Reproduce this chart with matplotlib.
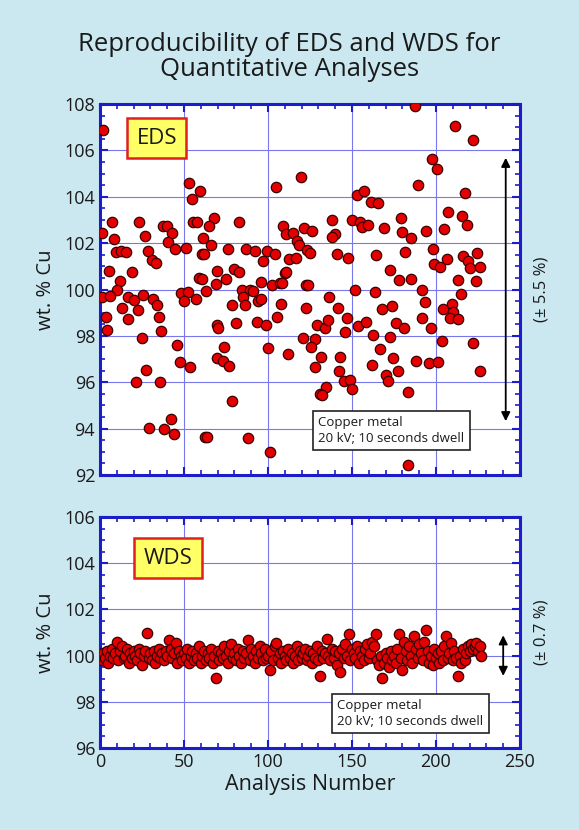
import matplotlib
matplotlib.use("Agg")
import matplotlib.pyplot as plt
from matplotlib.ticker import MultipleLocator

plt.rcParams['font.family'] = ['Open Sans', 'DejaVu Sans']

# EDS readings (analysis number, wt.% Cu)
eds_x = [2, 1, 7.3, 8.3, 9.7, 12.5, 15.7, 5.4, 11.7, 10.3, 1, 6, 16.5, 3.4, 4,
         13.3, 16.9, 18.8, 20.4, 22.8, 25.4, 23.2, 26.8, 28.8, 30.8, 33.1, 31.7,
         33.7, 35.1, 36.3, 24.8, 27.2, 21.2, 35.7, 29.4, 38.3, 42.3, 44, 37.7,
         39.7, 43, 40.7, 44.6, 51, 45.8, 47.6, 53.6, 53, 55, 59.5, 55.6, 58,
         48.2, 52.2, 50.2, 57.1, 59, 60.9, 62.5,
         67.9, 65.1, 82.9, 61.5, 65.9, 61.9, 76.4, 86.9, 92.3, 99.2, 104.1, 97.2,
         69.5, 80, 82.7, 75, 69, 63.1, 60.5, 84.3, 89.3, 91, 95.8, 102.2, 107.1,
         108.1, 110, 84.9, 78.4, 86.3, 94.2, 95.6, 107.5, 105.6, 69.4, 70.4, 81,
         93.3, 98.8, 73.8, 100.2, 112.1, 69.9, 73, 77, 78.8, 63.9, 88.3, 101.2,
         104.8, 119.4, 109.1, 110.7, 114.7, 117.1, 118.6, 121.4, 112.7, 116.7,
         110.7, 123.4, 122.6, 122.6, 121,
         126.4, 137.9, 139.9, 138.3, 125, 140.9, 147.4, 124, 136.3, 141.9, 146.8,
         129, 134, 136, 145.8, 128, 125.6, 131.6, 128, 142.9, 142.3, 145.4, 148.8,
         149.8, 134.3, 131, 132.4, 152.8, 157.3, 161.3, 165.6, 150.2, 154.8,
         155.7, 159.7, 169, 179.2, 179.6, 185.2, 164.1, 181.5, 172.6, 178.1,
         185.2, 151.8, 163.7, 168.1, 174.1, 153.4, 158.1, 176, 181.1, 162.7,
         172.6, 166.6, 174.6, 161.7, 170.1, 171.2, 177.6, 183.3, 183.6, 187.5,
         211.3, 222.2, 197.4, 200.4, 189.5, 217.3, 207.3, 215.3, 218.3, 194,
         204.8, 198, 215.9, 224.2, 206.7, 198.8, 202.4, 219, 220.2, 226.4, 213.3,
         223.8, 191.5, 214.7, 193.5, 204.4, 209.3, 210.3, 208.3, 213.3, 191.5,
         196.9, 203.4, 221.8, 188.1, 196, 201.4, 226.4]
eds_y = [106.9, 102.44, 102.93, 102.16, 101.61, 101.64, 101.61, 100.79, 100.36,
         99.96, 99.69, 99.71, 99.69, 98.8, 98.26, 99.19, 98.71, 100.76, 99.54,
         99.11, 99.76, 102.93, 102.29, 101.64, 101.26, 101.16, 99.61, 99.33,
         98.8, 98.19, 97.93, 96.51, 96.01, 96.01, 94.04, 94.0, 94.4, 93.76,
         102.73, 102.76, 102.43, 102.07, 101.73, 101.81, 97.59, 96.87, 96.64,
         104.61, 103.9, 104.26, 102.93, 102.93, 99.87, 99.9, 99.5, 99.61, 100.51,
         101.54, 93.64,
         103.07, 102.73, 102.93, 102.21, 101.93, 101.51, 101.76, 101.76, 101.66,
         101.64, 101.53, 101.21, 100.79, 100.87, 100.76, 100.47, 100.24, 99.93,
         100.47, 100.0, 99.96, 99.93, 100.33, 100.21, 100.26, 100.3, 100.73,
         99.69, 99.33, 99.33, 99.5, 99.59, 99.36, 98.81, 98.47, 98.36, 98.54,
         98.61, 98.47, 97.54, 97.47, 97.21, 97.04, 96.9, 96.69, 95.19, 93.64,
         93.61, 93.01, 104.4, 104.87, 102.76, 102.4, 102.43, 102.11, 101.93,
         102.67, 101.3, 101.36, 100.76, 101.69, 100.19, 99.21, 97.93,
         102.54, 103.01, 102.4, 102.26, 101.59, 101.54, 101.36, 100.19, 99.69,
         99.21, 98.76, 98.47, 98.36, 98.69, 98.16, 97.87, 97.5, 97.11, 96.64,
         97.07, 96.47, 96.07, 96.11, 95.73, 95.79, 95.5, 95.44, 104.07, 104.26,
         103.76, 103.73, 103.01, 102.9, 102.69, 102.79, 102.66, 103.07, 102.5,
         102.21, 101.47, 101.61, 100.83, 100.4, 100.47, 100.0, 99.91, 99.16,
         99.27, 98.44, 98.59, 98.54, 98.33, 98.04, 97.97, 97.44, 97.04, 96.76,
         96.33, 96.04, 96.5, 95.59, 92.44, 107.9,
         107.04, 106.44, 105.64, 105.21, 104.5, 104.16, 103.33, 103.19, 102.79,
         102.54, 102.61, 101.73, 101.44, 101.59, 101.3, 101.11, 100.97, 101.21,
         100.93, 100.97, 100.4, 100.36, 99.97, 99.79, 99.44, 99.16, 99.36, 99.04,
         98.79, 98.73, 98.76, 98.36, 97.76, 97.69, 96.9, 96.83, 96.87, 96.5]

# WDS readings, one per analysis number 1..227
wds_y = [99.8, 100.1, 99.9, 100.2, 99.7, 100.0, 100.3, 99.9, 100.1, 100.6, 99.8, 100.2, 100.4, 99.9, 100.0,
         100.3, 99.7, 100.1, 99.9, 100.2, 100.0, 99.8, 100.3, 100.1, 99.6, 100.0, 100.2, 100.97, 99.9, 100.1,
         99.8, 100.2, 99.7, 100.0, 100.3, 99.9, 100.1, 99.8, 100.2, 100.0, 100.67, 100.3, 99.9, 100.1, 100.55,
         99.7, 100.2, 100.0, 99.8, 100.1, 99.9, 100.3, 99.7, 100.0, 100.2, 99.8, 100.1, 99.9, 100.4, 99.7,
         100.0, 100.2, 99.8, 100.1, 99.9, 100.3, 99.7, 100.0, 99.04, 100.2, 99.8, 100.1, 99.9, 100.4, 100.0,
         99.7, 100.2, 100.5, 99.9, 100.1, 99.8, 100.3, 100.0, 99.7, 100.2, 99.9, 100.1, 100.67, 99.8, 100.3,
         100.0, 99.7, 100.2, 99.9, 100.4, 100.1, 99.8, 100.3, 99.9, 100.0, 99.36, 100.2, 99.8, 100.4, 100.55,
         99.9, 100.1, 99.7, 100.2, 100.0, 99.8, 100.3, 99.9, 100.1, 99.7, 100.0, 100.4, 99.8, 100.2, 99.9,
         100.1, 100.3, 99.8, 100.0, 100.2, 99.7, 100.1, 99.9, 100.4, 99.8, 99.1, 100.2, 99.9, 100.1, 100.7,
         100.0, 99.8, 100.3, 99.9, 100.2, 99.6, 100.1, 99.29, 100.3, 99.9, 100.5, 100.0, 100.93, 99.8, 100.3,
         100.1, 99.9, 100.4, 99.7, 100.2, 100.0, 99.8, 100.3, 100.5, 99.9, 100.1, 100.6, 100.4, 100.93, 99.8,
         99.6, 100.0, 99.04, 99.7, 100.1, 99.9, 99.5, 100.2, 99.8, 100.0, 99.7, 100.3, 100.93, 99.9, 99.36,
         100.6, 100.2, 99.8, 100.4, 100.0, 99.7, 100.86, 100.3, 99.9, 100.5, 100.1, 99.8, 100.6, 101.1, 100.2,
         99.7, 100.0, 99.6, 100.3, 99.9, 100.1, 99.7, 100.2, 99.8, 100.4, 100.86, 99.9, 100.1, 100.55, 99.8,
         100.2, 99.9, 99.1, 100.0, 99.7, 100.3, 99.8, 100.1, 100.4, 100.2, 100.5, 100.3, 100.4, 100.55, 100.2,
         100.4, 100.0]
wds_x = list(range(1, len(wds_y) + 1))

bg = '#cbe8f0'
spine_blue = '#1c1cc8'
grid_blue = '#7878ec'
ink = '#1a1a1a'

fig = plt.figure(figsize=(5.79, 8.30), dpi=100, facecolor=bg)
fig.suptitle('Reproducibility of EDS and WDS for\nQuantitative Analyses',
             y=0.962, fontsize=18.5, linespacing=1.0, color=ink)

ax1 = fig.add_axes([0.1727, 0.4277, 0.7254, 0.447])
ax2 = fig.add_axes([0.1727, 0.0988, 0.7254, 0.2783])


def style(ax, ylo, yhi):
    ax.set_xlim(0, 250)
    ax.set_ylim(ylo, yhi)
    ax.xaxis.set_major_locator(MultipleLocator(50))
    ax.xaxis.set_minor_locator(MultipleLocator(10))
    ax.yaxis.set_major_locator(MultipleLocator(2))
    ax.yaxis.set_minor_locator(MultipleLocator(0.5))
    ax.grid(True, which='major', color=grid_blue, lw=0.8, zorder=0)
    ax.set_axisbelow(True)
    ax.tick_params(which='both', direction='in', top=True, right=True,
                   color=spine_blue, labelsize=13, labelcolor=ink)
    ax.tick_params(which='major', length=6, width=1.5)
    ax.tick_params(which='minor', length=3.5, width=1.2)
    for s in ax.spines.values():
        s.set_color(spine_blue)
        s.set_linewidth(2.2)
    ax.set_ylabel('wt. % Cu', fontsize=14.5, color=ink, labelpad=6)


style(ax1, 92, 108)
style(ax2, 96, 106)
ax1.tick_params(labelbottom=False)

ax1.scatter(eds_x, eds_y, s=56, c='#e40000', edgecolors='#3a0000', linewidths=0.9, zorder=3)
ax2.scatter(wds_x, wds_y, s=56, c='#e40000', edgecolors='#3a0000', linewidths=0.9, zorder=3)

ax2.set_xlabel('Analysis Number', fontsize=15.5, color=ink, labelpad=2)

# labels
box_kw = dict(boxstyle='square,pad=0.42', fc='#ffff66', ec='#e02020', lw=1.8)
ax1.text(0.135, 0.908, 'EDS', transform=ax1.transAxes, ha='center', va='center',
         fontsize=16, bbox=box_kw, zorder=5, color=ink)
ax2.text(0.162, 0.822, 'WDS', transform=ax2.transAxes, ha='center', va='center',
         fontsize=16, bbox=box_kw, zorder=5, color=ink)

note_kw = dict(boxstyle='square,pad=0.4', fc='white', ec='#222222', lw=1.2)
ax1.text(0.52, 0.12, 'Copper metal\n20 kV; 10 seconds dwell', transform=ax1.transAxes,
         ha='left', va='center', fontsize=9.5, bbox=note_kw, zorder=5, linespacing=1.3,
         color=ink)
ax2.text(0.565, 0.15, 'Copper metal\n20 kV; 10 seconds dwell', transform=ax2.transAxes,
         ha='left', va='center', fontsize=9.5, bbox=note_kw, zorder=5, linespacing=1.3,
         color=ink)

# range arrows
arr = dict(arrowstyle='<|-|>', color='black', lw=1.3, mutation_scale=13)
ax1.annotate('', xy=(241.5, 105.8), xytext=(241.5, 94.2), arrowprops=arr)
ax2.annotate('', xy=(240, 101.0), xytext=(240, 99.0), arrowprops=arr)

ax1.text(1.05, 0.5, '(± 5.5 %)', transform=ax1.transAxes, rotation=90,
         ha='center', va='center', fontsize=12, color=ink)
ax2.text(1.05, 0.5, '(± 0.7 %)', transform=ax2.transAxes, rotation=90,
         ha='center', va='center', fontsize=12, color=ink)

fig.savefig('out.png', dpi=100, facecolor=bg)
